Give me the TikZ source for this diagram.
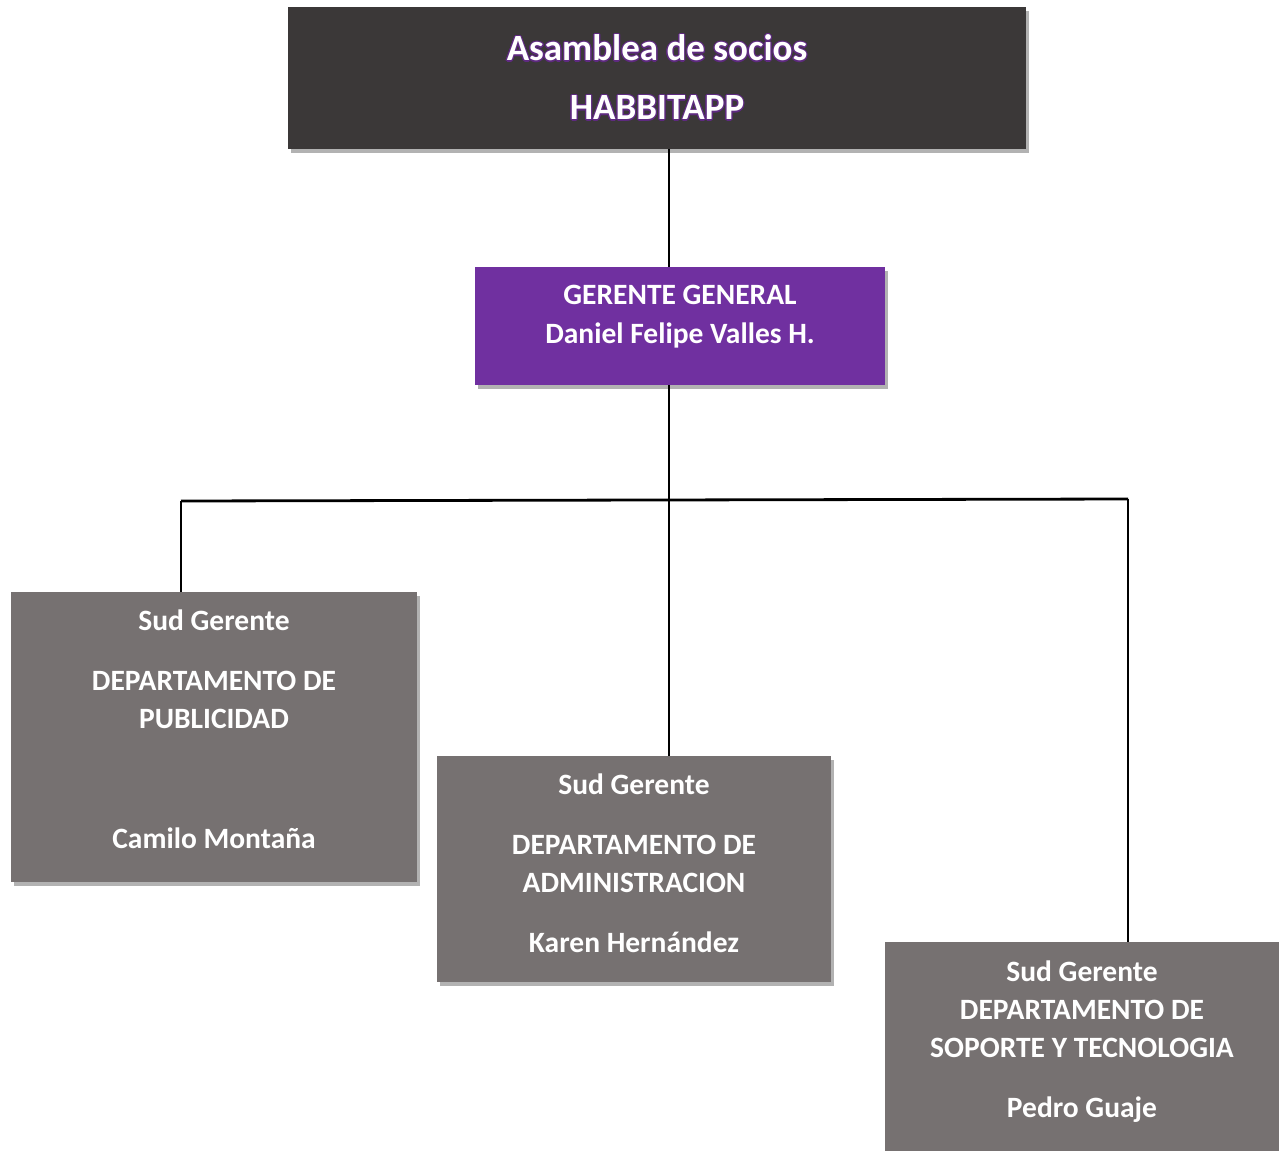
\documentclass[tikz,border=0pt]{standalone}
\usepackage{fontspec}
\setmainfont{Carlito}
\usepackage{contour}
\usetikzlibrary{shadows}

\definecolor{asamblea}{HTML}{3B3838}
\definecolor{gerente}{HTML}{7030A0}
\definecolor{subger}{HTML}{767171}
\definecolor{glow}{HTML}{5E2A80}
\contourlength{1.2bp}

\begin{document}
\begin{tikzpicture}[
  x=1bp,y=-1bp,
  org/.style={align=center,inner sep=0pt,text=white,font=\bfseries,
    drop shadow={shadow xshift=3bp,shadow yshift=-4bp,opacity=0.3,fill=black}},
  top/.style={org,fill=asamblea,minimum width=738bp,minimum height=142bp,
    font=\bfseries\fontsize{37bp}{59bp}\selectfont},
  gg/.style={org,fill=gerente,minimum width=410bp,minimum height=118bp,
    font=\bfseries\fontsize{29.5bp}{39bp}\selectfont},
  dept/.style={org,fill=subger,minimum width=400bp,
    font=\bfseries\fontsize{29.5bp}{38bp}\selectfont},
  wire/.style={line width=2.8bp,black},
]
\useasboundingbox (0,0) rectangle (1279,1151);
\clip (0,0) rectangle (1279,1151);

\node[top] (asam) at (657,78)
  {\contour{glow}{Asamblea de socios}\\\contour{glow}{HABBITAPP}};
\node[gg] (ger) at (680,326) {GERENTE GENERAL\\Daniel Felipe Valles H.\rule[-24bp]{0pt}{1bp}};

% sub gerentes
\node[dept,minimum width=406bp,minimum height=290bp] (pub) at (214,737)
  {Sud Gerente\\[22bp]DEPARTAMENTO DE\\PUBLICIDAD\\[82bp]Camilo Montaña\rule[-16bp]{0pt}{1bp}};
\node[dept,minimum width=394bp,minimum height=226bp] (adm) at (634,869)
  {Sud Gerente\\[22bp]DEPARTAMENTO DE\\ADMINISTRACION\\[22bp]Karen Hernández\rule[-12bp]{0pt}{1bp}};
\node[dept,minimum width=394bp,minimum height=226bp] (sop) at (1082,1055)
  {Sud Gerente\\DEPARTAMENTO DE\\SOPORTE Y TECNOLOGIA\\[22bp]Pedro Guaje\rule[-32bp]{0pt}{1bp}};

\coordinate (jM) at (669,500);
\coordinate (jL) at (181,501);
\coordinate (jR) at (1128,499);

\draw[wire] (asam.south -| jM) -- (ger.north -| jM);
\draw[wire] (ger.south -| jM) -- (adm.north -| jM);
\draw[wire] (jL) -- (jR);
\draw[wire] (jL) -- (pub.north -| jL);
\draw[wire] (jR) -- (sop.north -| jR);
\end{tikzpicture}
\end{document}
